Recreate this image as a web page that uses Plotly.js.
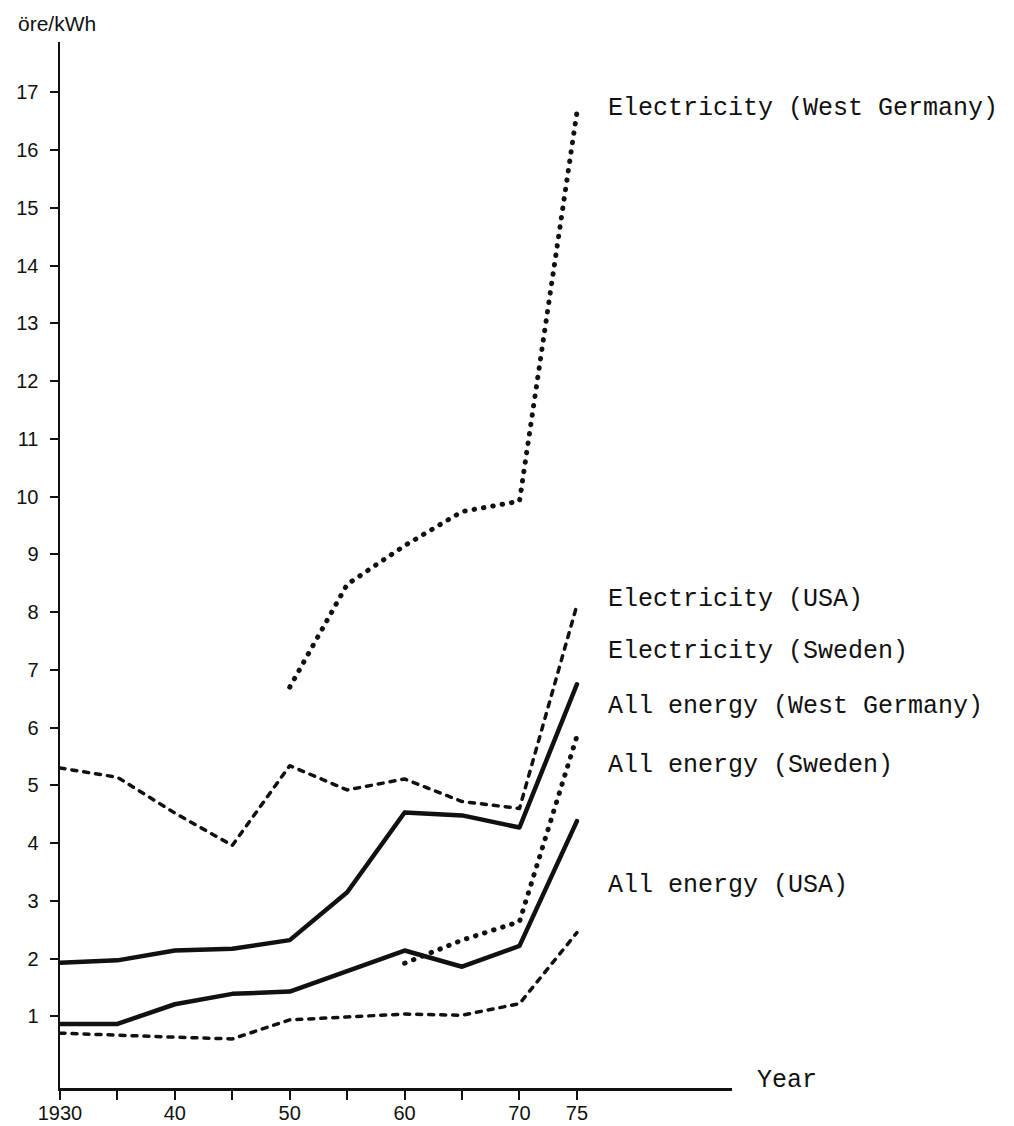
<!DOCTYPE html>
<html>
<head>
<meta charset="utf-8">
<script src="https://cdn.plot.ly/plotly-3.0.1.min.js"></script>
<style>
  html, body { margin: 0; padding: 0; background: #fff; }
  #chart { width: 1014px; height: 1126px; }
  .scatterlayer .js-line { stroke-linecap: round; stroke-linejoin: round; }
</style>
</head>
<body>
<div id="chart"></div>
<script>
// ---- data ----
const years = [1930, 1935, 1940, 1945, 1950, 1955, 1960, 1965, 1970, 1975];
const elecWestGermany = [null, null, null, null, 6.70, 8.48, 9.15, 9.74, 9.92, 16.65];
const allWestGermany  = [null, null, null, null, null, null, 1.92, 2.32, 2.64, 5.85];
const elecUSA         = [5.30, 5.14, 4.52, 3.96, 5.34, 4.92, 5.11, 4.72, 4.60, 8.12];
const allUSA          = [0.71, 0.67, 0.64, 0.61, 0.94, 0.99, 1.04, 1.02, 1.22, 2.45];
const elecSweden      = [1.93, 1.97, 2.14, 2.17, 2.32, 3.15, 4.53, 4.48, 4.27, 6.75];
const allSweden       = [0.87, 0.87, 1.21, 1.39, 1.43, 1.79, 2.14, 1.86, 2.22, 4.38];

const xTickVals = [1930, 1935, 1940, 1945, 1950, 1955, 1960, 1965, 1970, 1975];
const xTickText = ['1930', '', '40', '', '50', '', '60', '', '70', '75'];
const yTickVals = [1, 2, 3, 4, 5, 6, 7, 8, 9, 10, 11, 12, 13, 14, 15, 16, 17];

const seriesLabels = [
  'Electricity (West Germany)',
  'Electricity (USA)',
  'Electricity (Sweden)',
  'All energy (West Germany)',
  'All energy (Sweden)',
  'All energy (USA)'
];
const labelY = [16.72, 8.21, 7.32, 6.37, 5.35, 3.27];

// ---- styles ----
const ink = '#111';
const dotted = { color: ink, width: 5, dash: '0.5px,9px' };
const dashed = { color: ink, width: 3.5, dash: '5px,7px' };
const solid  = { color: ink, width: 4.5 };

const traces = [
  { x: years, y: elecWestGermany, line: dotted },
  { x: years, y: allWestGermany,  line: dotted },
  { x: years, y: elecUSA,         line: dashed },
  { x: years, y: allUSA,          line: dashed },
  { x: years, y: elecSweden,      line: solid },
  { x: years, y: allSweden,       line: solid }
].map(t => Object.assign({ type: 'scatter', mode: 'lines', hoverinfo: 'skip', connectgaps: false }, t));

const labelFont = { family: '"Liberation Mono", "Courier New", monospace', size: 25, color: ink };
const tickFont  = { family: '"Liberation Sans", Arial, Helvetica, sans-serif', size: 20, color: ink };

const annotations = seriesLabels.map((txt, i) => ({
  text: txt, xref: 'paper', yref: 'y', x: 0.812, y: labelY[i],
  xanchor: 'left', yanchor: 'middle', showarrow: false, font: labelFont
}));
annotations.push({
  text: 'öre/kWh', xref: 'paper', yref: 'paper', x: -0.066, y: 1.018,
  xanchor: 'left', yanchor: 'middle', showarrow: false,
  font: { family: tickFont.family, size: 21, color: ink }
});
annotations.push({
  text: 'Year', xref: 'paper', yref: 'paper', x: 1.034, y: 0.007,
  xanchor: 'left', yanchor: 'middle', showarrow: false, font: labelFont
});

const layout = {
  width: 1014, height: 1126,
  margin: { l: 60, r: 282, t: 42, b: 38 },
  paper_bgcolor: '#fff', plot_bgcolor: '#fff',
  showlegend: false,
  xaxis: {
    range: [1930, 1988.5], showgrid: false, zeroline: false,
    showline: true, linecolor: ink, linewidth: 2.5,
    tickmode: 'array', tickvals: xTickVals, ticktext: xTickText,
    ticks: 'outside', ticklen: 9, tickwidth: 2, tickcolor: ink,
    ticklabelstandoff: -4,
    tickfont: tickFont, fixedrange: true
  },
  yaxis: {
    range: [-0.24, 17.87], showgrid: false, zeroline: false,
    showline: true, linecolor: ink, linewidth: 2.5,
    tickmode: 'array', tickvals: yTickVals,
    ticks: 'outside', ticklen: 8, tickwidth: 2, tickcolor: ink,
    ticklabelstandoff: 7,
    tickfont: tickFont, fixedrange: true
  },
  annotations: annotations
};

Plotly.newPlot('chart', traces, layout, { staticPlot: true, displayModeBar: false });
</script>
</body>
</html>
